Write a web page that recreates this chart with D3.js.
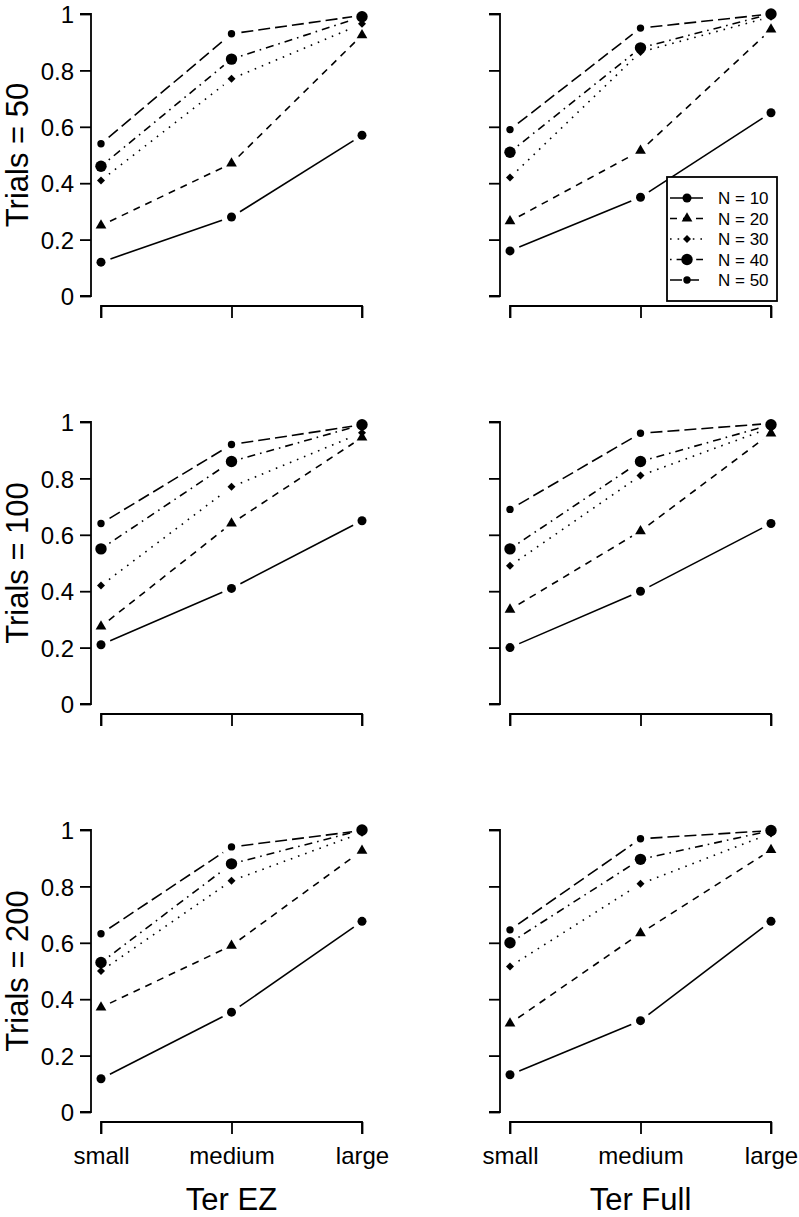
<!DOCTYPE html>
<html><head><meta charset="utf-8">
<script src="https://cdn.jsdelivr.net/npm/d3@7"></script>
<style>body{margin:0;background:#fff}svg{display:block}text{font-family:"Liberation Sans",Arial,Helvetica,sans-serif;fill:#000}</style>
</head><body>
<script>
// ---- data ----
const categories = ["small", "medium", "large"];
const seriesNames = ["N = 10", "N = 20", "N = 30", "N = 40", "N = 50"];
const trialLabels = ["Trials = 50", "Trials = 100", "Trials = 200"];
const methodLabels = ["Ter EZ", "Ter Full"];
const yTicks = [0, 0.2, 0.4, 0.6, 0.8, 1];
const yTickLabels = ["0", "0.2", "0.4", "0.6", "0.8", "1"];

// rows: series N=10..50, columns: small, medium, large
const ez50 = [
  [0.12, 0.28, 0.57],
  [0.25, 0.47, 0.925],
  [0.41, 0.77, 0.965],
  [0.46, 0.84, 0.99],
  [0.54, 0.93, 0.995]
];
const full50 = [
  [0.16, 0.35, 0.65],
  [0.265, 0.515, 0.945],
  [0.42, 0.865, 0.99],
  [0.51, 0.88, 1.0],
  [0.59, 0.95, 1.0]
];
const ez100 = [
  [0.21, 0.41, 0.65],
  [0.275, 0.64, 0.945],
  [0.42, 0.77, 0.962],
  [0.55, 0.86, 0.99],
  [0.64, 0.92, 0.99]
];
const full100 = [
  [0.20, 0.40, 0.64],
  [0.335, 0.613, 0.96],
  [0.49, 0.81, 0.98],
  [0.55, 0.86, 0.99],
  [0.69, 0.96, 0.995]
];
const ez200 = [
  [0.118, 0.354, 0.676],
  [0.371, 0.59, 0.927],
  [0.50, 0.82, 0.99],
  [0.53, 0.88, 1.0],
  [0.632, 0.94, 0.998]
];
const full200 = [
  [0.132, 0.324, 0.676],
  [0.314, 0.634, 0.929],
  [0.516, 0.809, 0.988],
  [0.60, 0.896, 0.998],
  [0.646, 0.969, 0.998]
];
const panelData = [[ez50, full50], [ez100, full100], [ez200, full200]];

// ---- styles ----
const dashes = [null, "7,6", "1.6,6", "1.6,5,8,5", "12,5"];
const shapes = ["circle", "triangle", "diamond", "bigcircle", "smallcircle"];

const W = 799, H = 1217;
const svg = d3.select("body").append("svg").attr("width", W).attr("height", H);

const colAxisX = [91, 500];
const colX0 = [101, 510], colX1 = [362, 771];
const rowTop = [14, 422, 830];
const plotH = 282;

function markerPath(shape) {
  if (shape === "circle") return d3.symbol(d3.symbolCircle, Math.PI * 4.5 * 4.5)();
  if (shape === "bigcircle") return d3.symbol(d3.symbolCircle, Math.PI * 5.7 * 5.7)();
  if (shape === "smallcircle") return d3.symbol(d3.symbolCircle, Math.PI * 3.7 * 3.7)();
  if (shape === "triangle") {
    const r = 6.2, xc = r * Math.sqrt(3) / 2, yc = r / 2;
    return `M0,${-r}L${xc},${yc}L${-xc},${yc}Z`;
  }
  if (shape === "diamond") { const d = 4.0; return `M0,${-d}L${d},0L0,${d}L${-d},0Z`; }
}

const font = '"Liberation Sans",Arial,Helvetica,sans-serif';

for (let r = 0; r < 3; r++) {
  for (let c = 0; c < 2; c++) {
    const top = rowTop[r], bottom = top + plotH;
    const y = d3.scaleLinear().domain([0, 1]).range([bottom, top]);
    const x = d3.scalePoint().domain(categories).range([colX0[c], colX1[c]]);
    const g = svg.append("g");

    // y axis
    const yAx = g.append("g").attr("transform", `translate(${colAxisX[c]},0)`)
      .call(d3.axisLeft(y).tickValues(yTicks).tickSize(11).tickPadding(6)
        .tickFormat(c === 0 ? ((d, i) => yTickLabels[i]) : () => ""));
    yAx.select(".domain").attr("d", `M-11,${y(0)}H0V${y(1)}H-11`);
    yAx.selectAll("line,path").attr("stroke", "#000").attr("stroke-width", 1.8).attr("fill", "none");
    yAx.selectAll("text").style("font-size", "24px").style("font-family", font).attr("dy", "0.36em");

    // x axis
    const axY = bottom + 10;
    const xAx = g.append("g").attr("transform", `translate(0,${axY})`)
      .call(d3.axisBottom(x).tickSize(12).tickPadding(13)
        .tickFormat(r === 2 ? (d => d) : () => ""));
    xAx.select(".domain").attr("d", `M${x("small")},12V0H${x("large")}V12`);
    xAx.selectAll("line,path").attr("stroke", "#000").attr("stroke-width", 1.8).attr("fill", "none");
    xAx.selectAll("text").style("font-size", "24px").style("font-family", font).attr("dy", "0.71em");

    // y title
    if (c === 0) {
      g.append("text").attr("transform", `translate(28,${(top + bottom) / 2}) rotate(-90)`)
        .attr("text-anchor", "middle").style("font-size", "31px").text(trialLabels[r]);
    }
    if (r === 2) {
      g.append("text").attr("x", (colX0[c] + colX1[c]) / 2).attr("y", 1210)
        .attr("text-anchor", "middle").style("font-size", "31px").text(methodLabels[c]);
    }

    // series
    const data = panelData[r][c];
    const gap = 10;
    data.forEach((vals, si) => {
      const pts = vals.map((v, i) => [x(categories[i]), y(v)]);
      for (let i = 0; i < pts.length - 1; i++) {
        const [x0, y0] = pts[i], [x1, y1] = pts[i + 1];
        const dx = x1 - x0, dy = y1 - y0, L = Math.hypot(dx, dy);
        if (L <= 2 * gap) continue;
        const ux = dx / L, uy = dy / L;
        g.append("path")
          .attr("d", `M${x0 + ux * gap},${y0 + uy * gap}L${x1 - ux * gap},${y1 - uy * gap}`)
          .attr("stroke", "#000").attr("stroke-width", 1.6).attr("fill", "none")
          .attr("stroke-dasharray", dashes[si]);
      }
      g.selectAll(null).data(pts).enter().append("path")
        .attr("transform", d => `translate(${d[0]},${d[1]})`)
        .attr("d", markerPath(shapes[si])).attr("fill", "#000");
    });

    // legend
    if (r === 0 && c === 1) {
      const lg = g.append("g");
      lg.append("rect").attr("x", 667).attr("y", 177).attr("width", 110).attr("height", 124)
        .attr("fill", "#fff").attr("stroke", "#000").attr("stroke-width", 1.8);
      seriesNames.forEach((nm, si) => {
        const ly = 198 + si * 20.5;
        lg.append("line").attr("x1", 670).attr("x2", 703).attr("y1", ly).attr("y2", ly)
          .attr("stroke", "#000").attr("stroke-width", 1.6).attr("stroke-dasharray", dashes[si]);
        lg.append("path").attr("transform", `translate(687,${ly})`).attr("d", markerPath(shapes[si])).attr("fill", "#000");
        lg.append("text").attr("x", 718).attr("y", ly).attr("dy", "0.36em").style("font-size", "17px").text(nm);
      });
    }
  }
}
</script>
</body></html>
